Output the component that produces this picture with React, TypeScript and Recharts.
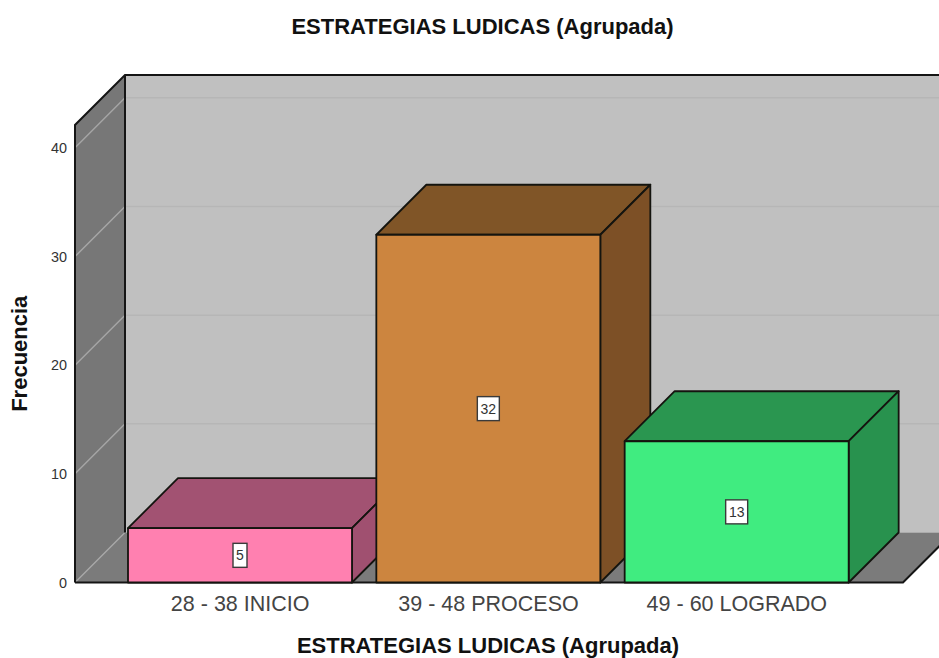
import React from 'react';
import { ComposedChart, Bar, XAxis, YAxis, LabelList, usePlotArea } from 'recharts';

const categories = ['28 - 38 INICIO', '39 - 48 PROCESO', '49 - 60 LOGRADO'];
const frequencies = [5, 32, 13];
const yTicks = [0, 10, 20, 30, 40];
const yMax = 42.1;
const titleText = 'ESTRATEGIAS LUDICAS (Agrupada)';
const yTitle = 'Frecuencia';

const frontColors = ['#ff80b0', '#cc853f', '#40ec80'];
const topColors = ['#a25272', '#805527', '#2a9650'];
const sideColors = ['#a05070', '#7d5026', '#28924e'];
const DX = 50;
const DY = 50;
const FONT = '"Liberation Sans", Arial, sans-serif';

const data = categories.map((category, i) => ({ category, value: frequencies[i] }));

function Walls() {
  const p = usePlotArea();
  if (!p) return null;
  const left = p.x;
  const right = p.x + p.width;
  const top = p.y;
  const bottom = p.y + p.height;
  const yOf = (v: number) => bottom - (v / yMax) * p.height;
  return (
    <g>
      <rect x={left + DX} y={top - DY} width={p.width + DX} height={p.height} fill="#c0c0c0" />
      <polygon
        points={`${left},${top} ${left + DX},${top - DY} ${left + DX},${bottom - DY} ${left},${bottom}`}
        fill="#777777"
      />
      <polygon
        points={`${left},${bottom} ${left + DX},${bottom - DY} ${right + DX},${bottom - DY} ${right},${bottom}`}
        fill="#7b7b7b"
      />
      {yTicks.map((t) => (
        <g key={t}>
          <line x1={left} y1={yOf(t)} x2={left + DX} y2={yOf(t) - DY} stroke="#a6a6a6" strokeWidth={1.5} />
          {t > 0 && (
            <line x1={left + DX} y1={yOf(t) - DY} x2={right + DX} y2={yOf(t) - DY} stroke="#b6b6b6" strokeWidth={1.5} />
          )}
        </g>
      ))}
      <path
        d={`M${left},${bottom} L${left},${top} L${left + DX},${top - DY} L${right + DX},${top - DY}`}
        fill="none"
        stroke="#151515"
        strokeWidth={2}
      />
      <line x1={left + DX} y1={top - DY} x2={left + DX} y2={bottom - DY} stroke="#151515" strokeWidth={2} />
      <path
        d={`M${left},${bottom} L${right},${bottom} L${right + DX},${bottom - DY}`}
        fill="none"
        stroke="#151515"
        strokeWidth={2}
      />
    </g>
  );
}

function Box3D(props: any) {
  const { x, y, width, height, index } = props;
  const r = x + width;
  const b = y + height;
  const stroke = '#14140f';
  return (
    <g stroke={stroke} strokeWidth={1.8} strokeLinejoin="round">
      <polygon points={`${x},${y} ${x + DX},${y - DY} ${r + DX},${y - DY} ${r},${y}`} fill={topColors[index]} />
      <polygon points={`${r},${y} ${r + DX},${y - DY} ${r + DX},${b - DY} ${r},${b}`} fill={sideColors[index]} />
      <rect x={x} y={y} width={width} height={height} fill={frontColors[index]} />
    </g>
  );
}

function ValueTag(props: any) {
  const { x, y, width, height, value } = props;
  const text = String(value);
  const w = text.length > 1 ? 22 : 14;
  const h = 24;
  const cx = x + width / 2;
  const cy = y + height / 2;
  return (
    <g>
      <rect x={cx - w / 2} y={cy - h / 2} width={w} height={h} fill="#ffffff" stroke="#3a3a3a" strokeWidth={1.4} />
      <text x={cx} y={cy + 5} textAnchor="middle" fontFamily={FONT} fontSize={14} fill="#333333">
        {text}
      </text>
    </g>
  );
}

export default function App() {
  return (
    <div style={{ position: 'absolute', left: 0, top: 0, width: 939, height: 658, background: '#ffffff' }}>
      <ComposedChart
        width={939}
        height={658}
        data={data}
        margin={{ top: 125, right: 36, bottom: 0, left: 0 }}
      >
        <Walls />
        <XAxis
          dataKey="category"
          height={75.5}
          axisLine={false}
          tickLine={false}
          interval={0}
          padding={{ left: 41, right: 42 }}
          tickMargin={7}
          tick={{ fontFamily: FONT, fontSize: 21.5, fill: '#444444' }}
        />
        <YAxis
          width={75}
          domain={[0, yMax]}
          ticks={yTicks}
          axisLine={false}
          tickLine={false}
          tickMargin={2}
          tick={{ fontFamily: FONT, fontSize: 14.4, fill: '#333333' }}
          label={{
            value: yTitle,
            angle: -90,
            position: 'insideLeft',
            offset: 19,
            style: { fontFamily: FONT, fontSize: 22, fontWeight: 700, fill: '#111111', textAnchor: 'middle' },
          }}
        />
        <Bar dataKey="value" barSize={224} isAnimationActive={false} shape={<Box3D />}>
          <LabelList dataKey="value" content={<ValueTag />} />
        </Bar>
        <text x={482.5} y={34} textAnchor="middle" fontFamily={FONT} fontSize={22} fontWeight={700} fill="#111111">
          {titleText}
        </text>
        <text x={488} y={653} textAnchor="middle" fontFamily={FONT} fontSize={22} fontWeight={700} fill="#111111">
          {titleText}
        </text>
      </ComposedChart>
    </div>
  );
}
